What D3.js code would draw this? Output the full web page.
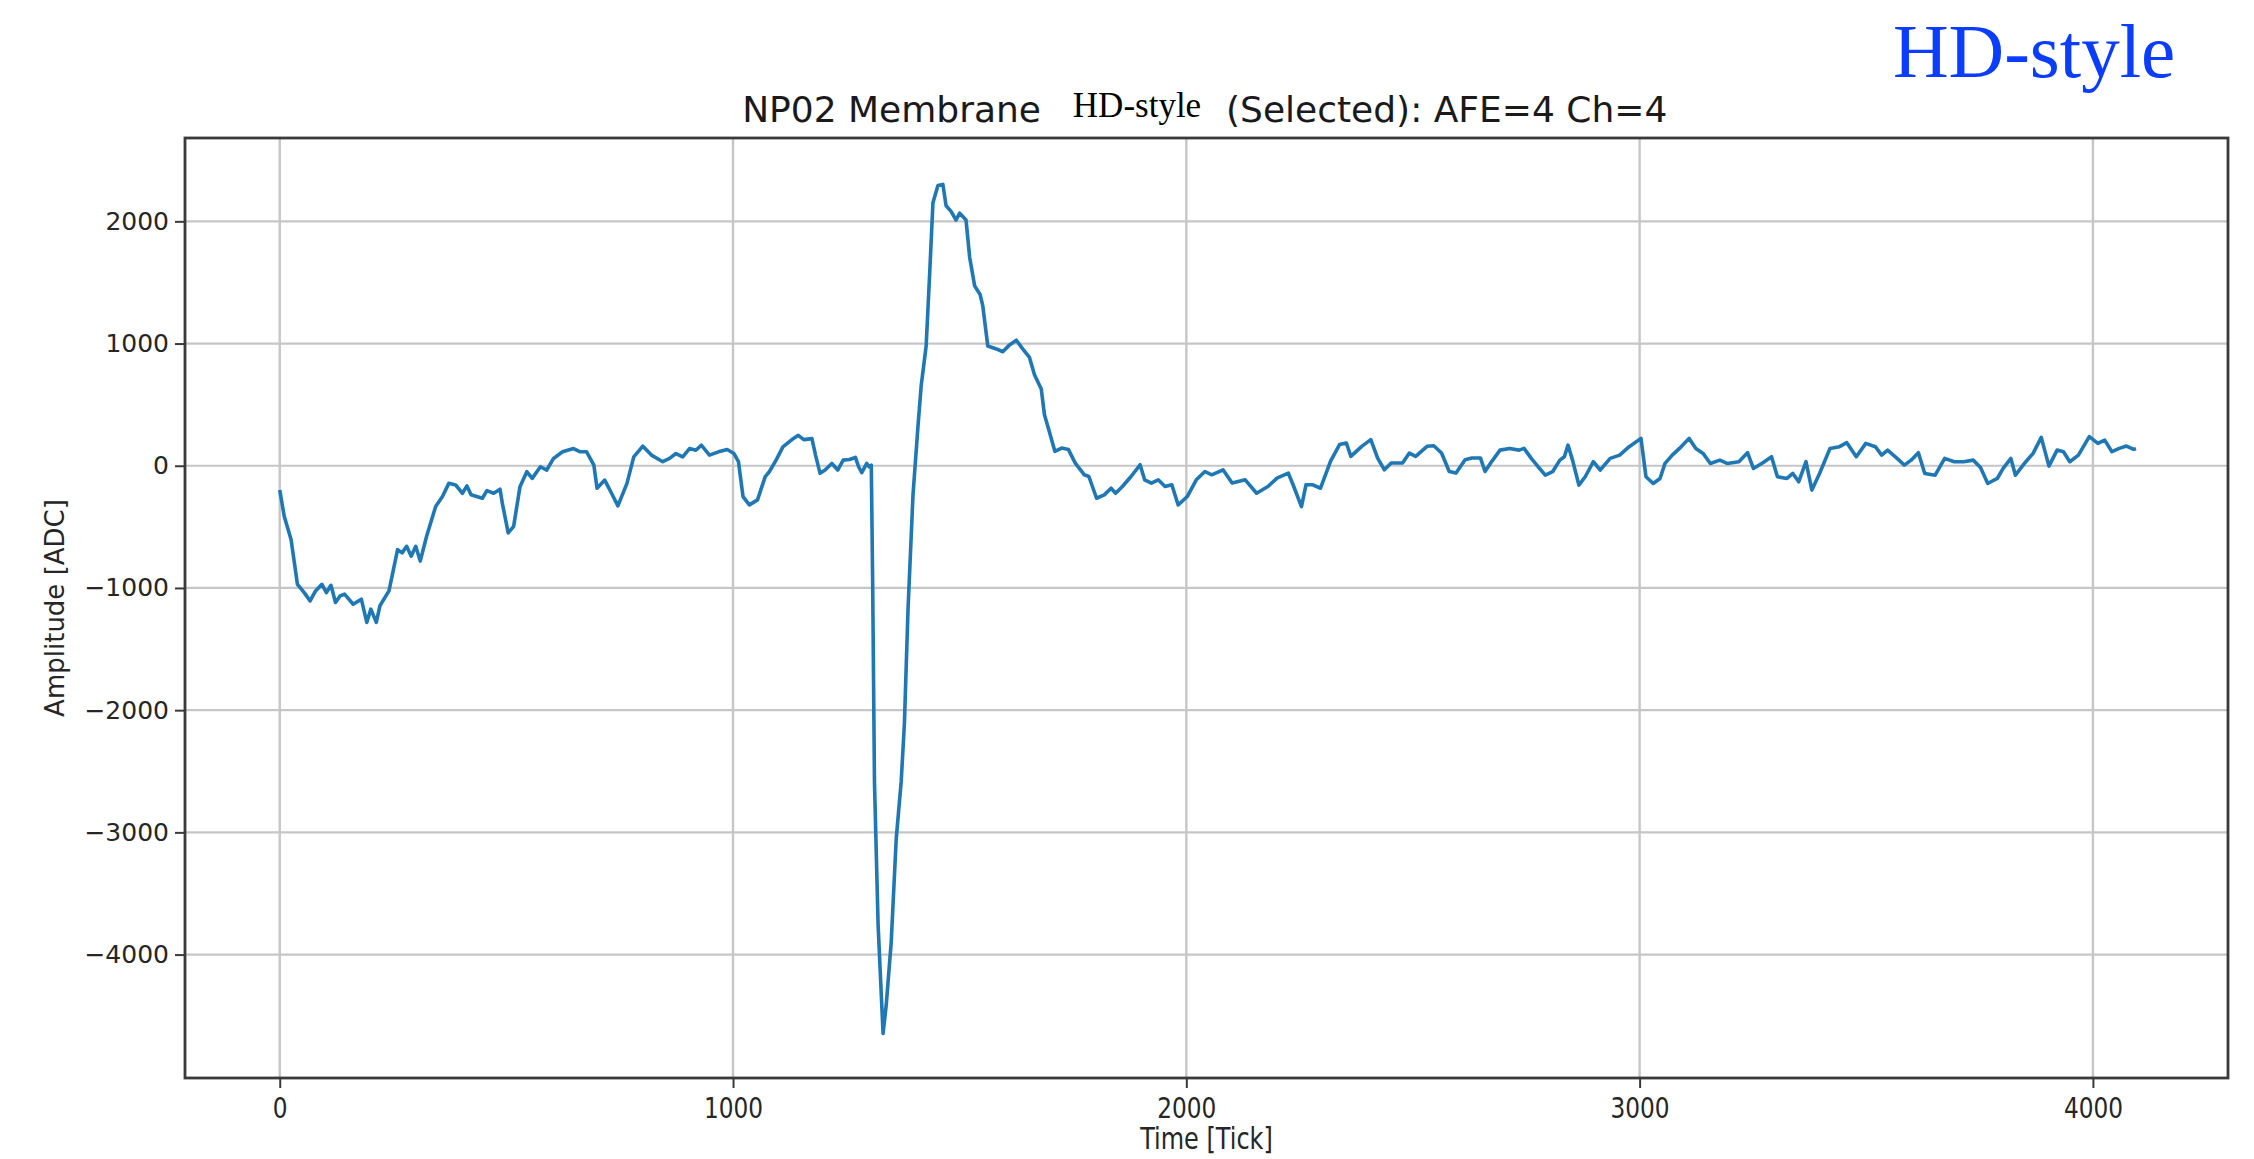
<!DOCTYPE html>
<html>
<head>
<meta charset="utf-8">
<script src="https://cdn.jsdelivr.net/npm/d3@7"></script>
<style>
  body { margin: 0; background: #fff; }
  svg { display: block; }
</style>
</head>
<body>
<script>
// waveform (tick, ADC)
var ticks = [
  0, 10, 25, 39, 54, 67, 79, 93, 103, 113, 123, 133, 143, 162, 180, 192, 201, 213, 221, 241,
  260, 270, 280, 290, 300, 310, 324, 344, 359, 373, 388, 403, 413, 422, 447, 457, 472, 486, 491, 504,
  516, 530, 545, 557, 575, 589, 604, 624, 648, 663, 677, 693, 700, 717, 732, 746, 766, 781, 801, 820,
  845, 860, 874, 889, 904, 918, 930, 948, 968, 987, 1002, 1012, 1022, 1036, 1054, 1071, 1080, 1095, 1110, 1130,
  1144, 1156, 1174, 1182, 1192, 1203, 1218, 1231, 1243, 1257, 1270, 1277, 1284, 1295, 1300, 1305,
  1308, 1312, 1320, 1331, 1338, 1349, 1360, 1371, 1378, 1386, 1397, 1408, 1415, 1426, 1434, 1441, 1452, 1463, 1470, 1481,
  1492, 1500, 1514, 1522, 1533, 1545, 1551, 1562, 1581, 1595, 1610, 1625, 1639, 1654, 1665, 1680, 1687, 1698,
  1710, 1725, 1740, 1755, 1775, 1785, 1802, 1819, 1834, 1844, 1859, 1878, 1898, 1908, 1923, 1938, 1953, 1968, 1982, 2002,
  2022, 2041, 2056, 2081, 2101, 2130, 2155, 2180, 2200, 2225, 2237, 2254, 2264, 2279, 2296, 2318, 2338, 2353, 2363, 2387,
  2407, 2422, 2437, 2452, 2477, 2492, 2506, 2531, 2546, 2563, 2580, 2595, 2615, 2630, 2649, 2659, 2674,
  2692, 2713, 2734, 2745, 2761, 2776, 2792, 2808, 2824, 2834, 2842, 2852, 2866, 2880, 2898, 2913, 2935, 2956, 2977, 3003,
  3014, 3030, 3045, 3056, 3072, 3088, 3109, 3124, 3140, 3156, 3177, 3193, 3219, 3238, 3251, 3272, 3291, 3304, 3325, 3338,
  3351, 3367, 3380, 3397, 3420, 3441, 3457, 3478, 3499, 3520, 3534, 3547, 3568, 3584, 3599, 3615, 3629, 3652, 3673, 3694,
  3715, 3736, 3752, 3768, 3789, 3802, 3819, 3829, 3852, 3868, 3886, 3903, 3921, 3935, 3949, 3968, 3992, 4011, 4026, 4042,
  4058, 4074, 4090, 4095
];
var adc = [
  -198, -415, -604, -970, -1038, -1106, -1024, -970, -1038, -978, -1119, -1065, -1051, -1133, -1092, -1282, -1173, -1282, -1146, -1024,
  -686, -713, -659, -740, -659, -780, -577, -333, -252, -144, -157, -225, -165, -238, -266, -203, -225, -192, -306, -550,
  -496, -171, -49, -103, -8, -35, 60, 114, 141, 114, 114, 5, -184, -117, -225, -328, -144, 73, 160, 87,
  33, 60, 100, 73, 141, 127, 168, 87, 114, 133, 100, 33, -252, -320, -279, -89, -49, 46, 154, 214,
  249, 214, 222, 87, -62, -35, 19, -35, 46, 51, 68, -8, -57, 19, -8, 5,
  -942, -2583, -3755, -4646, -4411, -3896, -3052, -2583, -2114, -1177, -239, 323, 652, 980, 1589, 2152, 2293, 2302, 2128, 2082,
  2011, 2067, 2011, 1706, 1472, 1402, 1308, 980, 956, 933, 989, 1027, 956, 886, 745, 628, 417, 277,
  118, 145, 132, 22, -74, -88, -266, -238, -184, -225, -170, -88, 8, -115, -142, -115, -170, -156, -321, -252,
  -115, -47, -74, -33, -142, -115, -225, -170, -101, -60, -170, -334, -156, -156, -184, 36, 173, 186, 77, 159,
  214, 63, -33, 22, 22, 104, 77, 159, 164, 104, -47, -60, 49, 63, 63, -47, 36,
  128, 142, 128, 142, 60, -8, -77, -49, 46, 74, 169, 46, -158, -90, 33, -36, 60, 87, 156, 224,
  -90, -145, -104, 19, 87, 142, 224, 142, 101, 19, 46, 19, 33, 107, -22, 25, 74, -90, -104, -63,
  -131, 33, -199, -63, 142, 156, 189, 74, 183, 156, 87, 128, 60, 5, 46, 107, -63, -77, 60, 33,
  33, 46, -14, -145, -104, -22, 60, -77, 33, 101, 232, -3, 128, 115, 33, 87, 238, 183, 210, 115,
  142, 161, 134, 140
];

var xTicks = [0, 1000, 2000, 3000, 4000];
var yTicks = [-4000, -3000, -2000, -1000, 0, 1000, 2000];

var titleLeft = "NP02 Membrane";
var titleRight = "(Selected): AFE=4 Ch=4";
var stamp = "HD-style";
var xLabel = "Time [Tick]";
var yLabel = "Amplitude [ADC]";

var w = 2254;
var h = 1159;
var plot = { left: 185, right: 2228, top: 138, bottom: 1078 };

var svg = d3.select("body")
            .append("svg")
            .attr("width", w)
            .attr("height", h);

var x = d3.scaleLinear().domain([-209, 4298]).range([plot.left, plot.right]);
var y = d3.scaleLinear().domain([-5010, 2682]).range([plot.bottom, plot.top]);
var fmt = d3.format("d");

// grid
svg.append("g").selectAll("line")
    .data(xTicks)
    .enter().append("line")
    .attr("x1", function(d) { return x(d); })
    .attr("x2", function(d) { return x(d); })
    .attr("y1", plot.top)
    .attr("y2", plot.bottom)
    .style("stroke", "#c6c6c6")
    .style("stroke-width", 2.4);

svg.append("g").selectAll("line")
    .data(yTicks)
    .enter().append("line")
    .attr("x1", plot.left)
    .attr("x2", plot.right)
    .attr("y1", function(d) { return y(d); })
    .attr("y2", function(d) { return y(d); })
    .style("stroke", "#c6c6c6")
    .style("stroke-width", 2.2);

// waveform
var points = ticks.map(function(t, i) { return [t, adc[i]]; });
var line = d3.line()
    .x(function(d) { return x(d[0]); })
    .y(function(d) { return y(d[1]); });

svg.append("path")
    .datum(points)
    .attr("d", line)
    .style("fill", "none")
    .style("stroke", "#1f77b4")
    .style("stroke-width", 3.6)
    .style("stroke-linejoin", "round");

// frame
svg.append("rect")
    .attr("x", plot.left)
    .attr("y", plot.top)
    .attr("width", plot.right - plot.left)
    .attr("height", plot.bottom - plot.top)
    .style("fill", "none")
    .style("stroke", "#3a3a3a")
    .style("stroke-width", 2.8);

// axes
var xAxis = svg.append("g")
    .attr("transform", "translate(0," + plot.bottom + ")")
    .call(d3.axisBottom(x).tickValues(xTicks).tickFormat(fmt).tickSize(10).tickPadding(9).tickSizeOuter(0));
xAxis.select(".domain").remove();
xAxis.selectAll("line").style("stroke", "#3a3a3a").style("stroke-width", 2);
xAxis.selectAll("text")
    .attr("transform", "scale(0.8,1)")
    .style("font-family", "DejaVu Sans")
    .style("font-size", "29px")
    .style("fill", "#262626");

var yAxis = svg.append("g")
    .attr("transform", "translate(" + plot.left + ",0)")
    .call(d3.axisLeft(y).tickValues(yTicks).tickFormat(fmt).tickSize(10).tickPadding(6).tickSizeOuter(0));
yAxis.select(".domain").remove();
yAxis.selectAll("line").style("stroke", "#3a3a3a").style("stroke-width", 2);
yAxis.selectAll("text")
    .style("font-family", "DejaVu Sans")
    .style("font-size", "25px")
    .style("fill", "#262626");

// axis labels
svg.append("text")
    .attr("transform", "translate(" + ((plot.left + plot.right) / 2) + ",1149) scale(0.8,1)")
    .attr("text-anchor", "middle")
    .style("font-family", "DejaVu Sans")
    .style("font-size", "30px")
    .style("fill", "#262626")
    .text(xLabel);

svg.append("text")
    .attr("transform", "translate(64," + ((plot.top + plot.bottom) / 2) + ") rotate(-90)")
    .attr("text-anchor", "middle")
    .style("font-family", "DejaVu Sans")
    .style("font-size", "26px")
    .style("fill", "#262626")
    .text(yLabel);

// title, with the pasted-over label
svg.append("text")
    .attr("x", 1041).attr("y", 122)
    .attr("text-anchor", "end")
    .style("font-family", "DejaVu Sans")
    .style("font-size", "36px")
    .style("fill", "#1a1a1a")
    .text(titleLeft);

svg.append("text")
    .attr("x", 1226).attr("y", 122)
    .attr("text-anchor", "start")
    .style("font-family", "DejaVu Sans")
    .style("font-size", "36px")
    .style("fill", "#1a1a1a")
    .text(titleRight);

svg.append("rect")
    .attr("x", 1062).attr("y", 86)
    .attr("width", 150).attr("height", 50)
    .style("fill", "#fff");

svg.append("text")
    .attr("x", 1137).attr("y", 117)
    .attr("text-anchor", "middle")
    .style("font-family", "Liberation Serif")
    .style("font-size", "35px")
    .style("fill", "#000")
    .text(stamp);

// corner stamp
svg.append("text")
    .attr("x", 1893).attr("y", 77)
    .style("font-family", "Liberation Serif")
    .style("font-size", "77px")
    .style("fill", "#0a3dff")
    .text(stamp);
</script>
</body>
</html>
